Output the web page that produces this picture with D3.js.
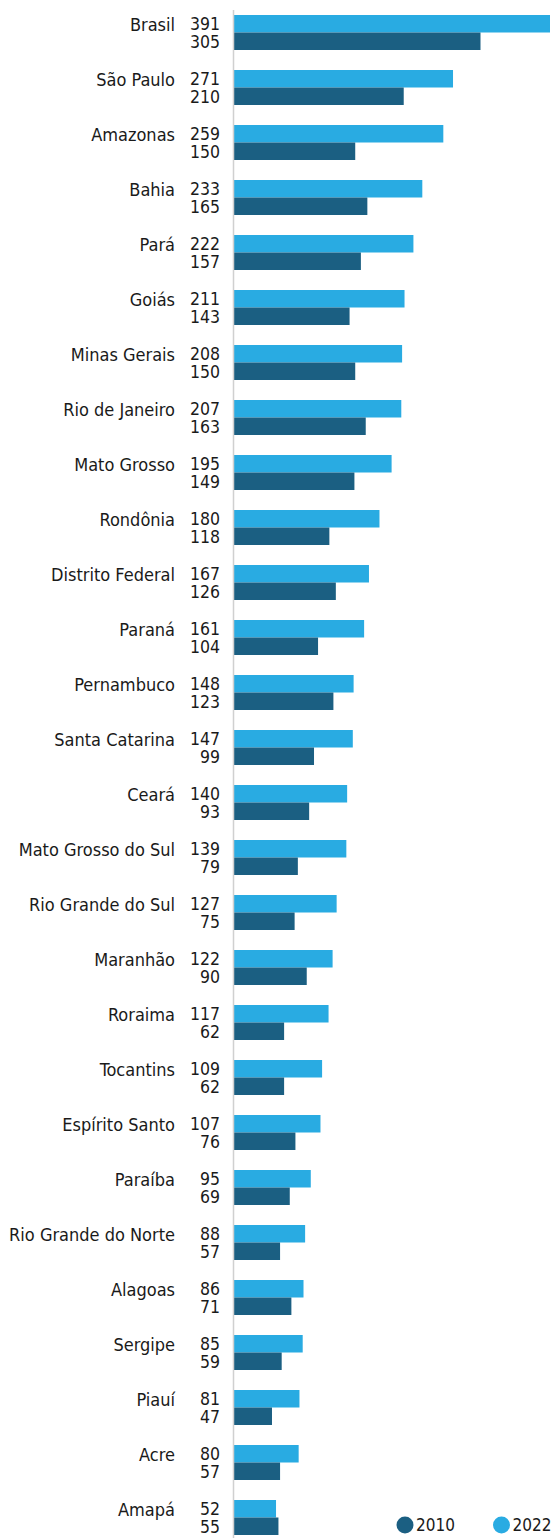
<!DOCTYPE html>
<html>
<head>
<meta charset="utf-8">
<script src="https://cdn.jsdelivr.net/npm/d3@7"></script>
<style>
  body { margin: 0; background: #fff; }
  svg text { font-family: "DejaVu Sans Condensed", "Liberation Sans Narrow", sans-serif; fill: #1a1a1a; }
</style>
</head>
<body>
<div id="chart"></div>
<script>
const width = 554;
const height = 1538;

const states = ["Brasil", "São Paulo", "Amazonas", "Bahia", "Pará", "Goiás", "Minas Gerais",
  "Rio de Janeiro", "Mato Grosso", "Rondônia", "Distrito Federal", "Paraná", "Pernambuco",
  "Santa Catarina", "Ceará", "Mato Grosso do Sul", "Rio Grande do Sul", "Maranhão", "Roraima",
  "Tocantins", "Espírito Santo", "Paraíba", "Rio Grande do Norte", "Alagoas", "Sergipe",
  "Piauí", "Acre", "Amapá"];
const values2022 = [391, 271, 259, 233, 222, 211, 208, 207, 195, 180, 167, 161, 148, 147, 140,
  139, 127, 122, 117, 109, 107, 95, 88, 86, 85, 81, 80, 52];
const values2010 = [305, 210, 150, 165, 157, 143, 150, 163, 149, 118, 126, 104, 123, 99, 93,
  79, 75, 90, 62, 62, 76, 69, 57, 71, 59, 47, 57, 55];
const years = ["2022", "2010"];
const colors = { "2022": "#29abe2", "2010": "#1b5f82" };

const axisX = 234;

const svg = d3.select("#chart")
  .append("svg")
  .attr("width", width)
  .attr("height", height);

const rows = states.map((s, i) => ({ state: s, "2022": values2022[i], "2010": values2010[i] }));

const x = d3.scaleLinear().domain([0, 391]).range([axisX, 550]);

const y = d3.scaleBand()
  .domain(states)
  .range([5, 5 + 55 * states.length])
  .paddingInner(20 / 55)
  .paddingOuter(10 / 55);

const ySub = d3.scaleBand().domain(years).range([0, y.bandwidth()]);

const group = svg.selectAll("g.row")
  .data(rows)
  .enter()
  .append("g")
  .attr("class", "row")
  .attr("transform", d => `translate(0,${y(d.state)})`);

group.selectAll("rect")
  .data(d => years.map(k => ({ key: k, value: d[k] })))
  .enter()
  .append("rect")
  .attr("x", x(0))
  .attr("y", d => ySub(d.key))
  .attr("width", d => x(d.value) - x(0))
  .attr("height", ySub.bandwidth())
  .style("fill", d => colors[d.key]);

// values next to the axis
group.selectAll("text.val")
  .data(d => years.map(k => ({ key: k, value: d[k] })))
  .enter()
  .append("text")
  .attr("class", "val")
  .attr("x", 220)
  .attr("y", d => ySub(d.key) + ySub.bandwidth() / 2)
  .attr("dy", "0.38em")
  .attr("text-anchor", "end")
  .style("font-size", "17.5px")
  .text(d => d.value);

group.append("text")
  .attr("x", 175)
  .attr("y", ySub.bandwidth() / 2)
  .attr("dy", "0.38em")
  .attr("text-anchor", "end")
  .style("font-size", "18px")
  .text(d => d.state);

svg.append("line")
  .attr("x1", axisX - 0.5)
  .attr("x2", axisX - 0.5)
  .attr("y1", 10)
  .attr("y2", height)
  .style("stroke", "#d0d0d0")
  .style("stroke-width", 1.5);

// legend
const legend = svg.selectAll("g.legend")
  .data(["2010", "2022"])
  .enter()
  .append("g")
  .attr("class", "legend")
  .attr("transform", (d, i) => `translate(${405 + i * 96.5},1525)`);

legend.append("circle")
  .attr("r", 8.5)
  .style("fill", d => colors[d]);

legend.append("text")
  .attr("x", 11)
  .attr("dy", "0.38em")
  .style("font-size", "17px")
  .text(d => d);
</script>
</body>
</html>
